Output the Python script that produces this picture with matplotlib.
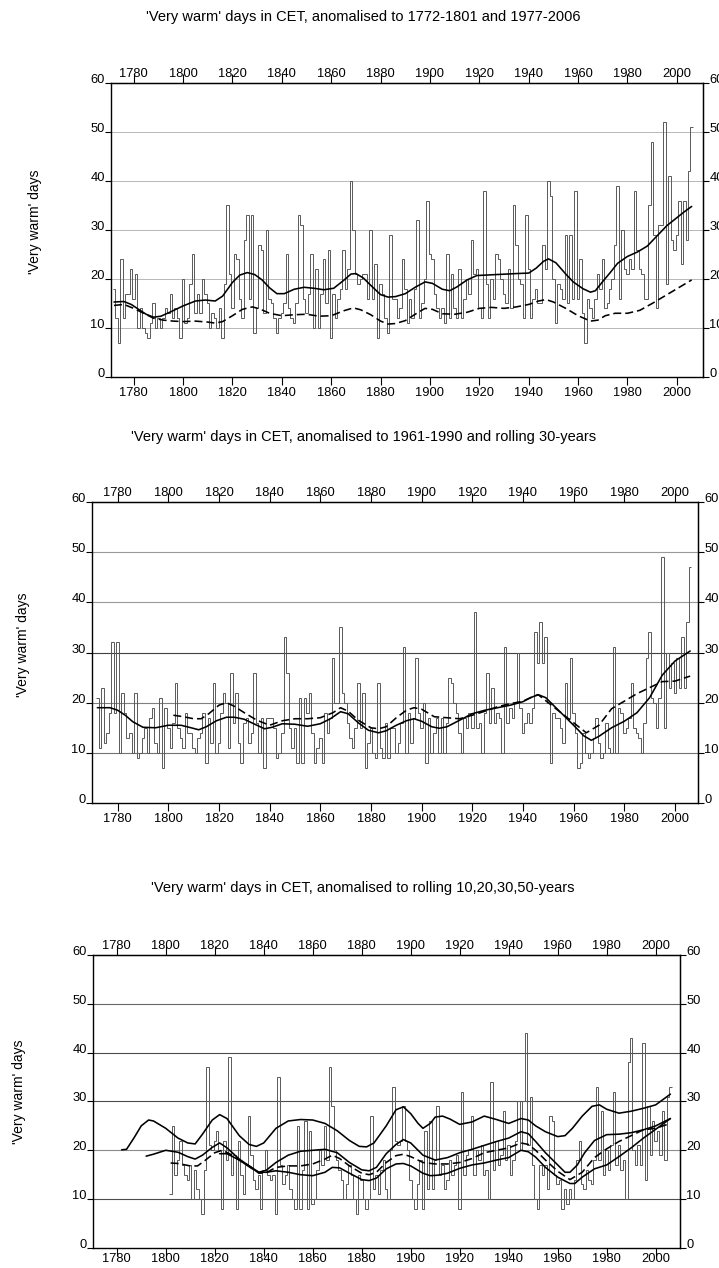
#!/usr/bin/env python3
"""'Very warm' days in CET - three anomaly panels (step series + smoothed curves)."""
import numpy as np
import matplotlib
matplotlib.use("Agg")
import matplotlib.pyplot as plt

plt.rcParams['font.family'] = ['Liberation Sans', 'DejaVu Sans']

# ---- panel 1: anomalised to 1772-1801 and 1977-2006 ----
p1_start = 1772
p1_days = [
    18, 12, 7, 24, 12, 17, 17, 22, 16, 21,
    10, 14, 10, 9, 8, 11, 15, 10, 12, 10,
    12, 14, 13, 17, 12, 14, 12, 8, 20, 11,
    12, 19, 25, 13, 17, 13, 20, 17, 15, 10,
    13, 12, 10, 14, 8, 19, 35, 21, 14, 25,
    24, 16, 12, 28, 33, 16, 33, 9, 14, 27,
    26, 13, 30, 16, 15, 12, 9, 12, 13, 15,
    25, 14, 12, 11, 15, 33, 31, 16, 13, 17,
    25, 10, 22, 10, 17, 24, 15, 26, 8, 17,
    12, 16, 18, 26, 18, 22, 40, 30, 21, 19,
    20, 21, 21, 16, 30, 16, 23, 8, 19, 17,
    12, 9, 29, 16, 16, 12, 14, 24, 18, 11,
    16, 12, 18, 32, 12, 15, 20, 36, 25, 24,
    17, 14, 12, 14, 11, 25, 12, 21, 14, 12,
    22, 12, 16, 20, 17, 28, 21, 22, 14, 12,
    38, 19, 12, 20, 16, 25, 24, 20, 17, 15,
    22, 14, 35, 27, 20, 19, 12, 33, 22, 12,
    16, 18, 15, 15, 27, 22, 40, 37, 20, 11,
    19, 18, 16, 29, 15, 29, 16, 38, 16, 24,
    13, 7, 16, 14, 12, 16, 21, 18, 24, 14,
    15, 18, 20, 27, 39, 16, 30, 22, 21, 24,
    22, 38, 26, 22, 21, 16, 16, 35, 48, 29,
    14, 31, 31, 52, 19, 41, 28, 26, 29, 36,
    23, 36, 28, 42, 51,
]
p1_solid_yr = [1772, 1776, 1779, 1782, 1785, 1788, 1791, 1795, 1800, 1805, 1809, 1813,
               1816, 1820, 1823, 1826, 1829, 1832, 1835, 1838, 1841, 1845, 1849, 1853,
               1857, 1861, 1865, 1868, 1870, 1873, 1876, 1880, 1883, 1886, 1890, 1894,
               1898, 1901, 1905, 1908, 1911, 1915, 1919, 1923, 1927, 1931, 1935, 1940,
               1943, 1946, 1948, 1951, 1955, 1958, 1962, 1965, 1967, 1970, 1973, 1976,
               1980, 1984, 1988, 1992, 1996, 2000, 2003, 2006]
p1_solid = [15.3, 15.4, 14.8, 13.8, 12.8, 12.2, 12.4, 13.3, 14.5, 15.5, 15.7, 15.5,
            16.5, 19.3, 20.8, 21.3, 20.9, 19.8, 18.2, 17.0, 17.0, 17.9, 18.3, 18.1,
            17.8, 18.1, 19.7, 21.0, 21.1, 20.2, 18.7, 16.8, 16.3, 16.4, 17.0, 18.3,
            19.4, 19.1, 17.9, 17.6, 18.4, 19.8, 20.7, 20.8, 20.9, 21.0, 21.1, 21.2,
            22.2, 23.6, 24.1, 23.3, 21.0, 19.4, 18.0, 17.3, 17.6, 19.5, 21.3, 23.2,
            24.6, 25.5, 26.7, 28.8, 30.9, 32.5, 33.7, 34.8]
p1_dash_yr = [1772, 1776, 1780, 1784, 1788, 1792, 1796, 1800, 1805, 1810, 1813, 1816,
              1820, 1824, 1828, 1831, 1835, 1840, 1845, 1850, 1855, 1860, 1865, 1869,
              1872, 1876, 1880, 1883, 1886, 1890, 1894, 1898, 1901, 1905, 1910, 1915,
              1920, 1925, 1930, 1935, 1940, 1944, 1947, 1950, 1955, 1960, 1965, 1968,
              1971, 1975, 1980, 1985, 1990, 1995, 2000, 2006]
p1_dash = [14.6, 14.8, 14.0, 13.0, 12.0, 11.6, 11.4, 11.3, 11.4, 11.2, 11.0, 11.3,
           12.5, 13.8, 14.3, 13.9, 13.0, 12.5, 12.7, 12.8, 12.4, 12.5, 13.5, 14.1,
           13.7, 12.7, 11.4, 10.8, 10.9, 11.5, 12.8, 14.0, 13.8, 12.9, 12.8, 13.2,
           14.0, 14.2, 14.0, 14.3, 14.8, 15.5, 15.8, 15.3, 14.0, 12.5, 11.4, 11.6,
           12.5, 13.0, 13.0, 13.6, 15.0, 16.5, 18.0, 19.8]

# ---- panel 2: anomalised to 1961-1990 and rolling 30-years ----
p2_start = 1772
p2_days = [
    21, 11, 23, 12, 14, 18, 32, 18, 32, 10,
    22, 18, 13, 14, 10, 22, 9, 10, 13, 15,
    10, 17, 19, 12, 10, 21, 7, 19, 15, 11,
    16, 24, 15, 13, 11, 18, 14, 14, 11, 10,
    13, 14, 18, 8, 17, 12, 24, 10, 12, 18,
    22, 20, 11, 26, 16, 22, 12, 8, 16, 17,
    12, 14, 26, 16, 10, 17, 7, 17, 17, 17,
    15, 9, 10, 14, 33, 26, 15, 11, 15, 8,
    21, 8, 21, 18, 22, 14, 8, 11, 13, 8,
    18, 14, 17, 29, 20, 20, 35, 22, 20, 16,
    13, 11, 15, 24, 15, 22, 7, 12, 15, 10,
    9, 24, 11, 9, 16, 9, 15, 15, 10, 12,
    16, 31, 10, 18, 12, 17, 29, 18, 15, 20,
    8, 17, 10, 14, 17, 10, 17, 10, 16, 25,
    24, 20, 18, 14, 10, 17, 15, 18, 15, 38,
    15, 16, 10, 18, 26, 16, 23, 16, 18, 17,
    10, 31, 16, 19, 17, 20, 30, 19, 14, 16,
    18, 16, 19, 34, 28, 36, 28, 33, 20, 8,
    18, 17, 17, 15, 12, 24, 17, 29, 18, 14,
    7, 8, 14, 10, 9, 10, 13, 17, 12, 9,
    10, 16, 11, 10, 31, 10, 19, 18, 14, 15,
    17, 24, 15, 14, 13, 10, 16, 29, 34, 21,
    20, 15, 21, 49, 15, 30, 23, 28, 22, 29,
    23, 33, 23, 36, 47,
]
p2_solid_yr = [1772, 1777, 1780, 1783, 1786, 1790, 1795, 1800, 1805, 1809, 1812, 1815,
               1819, 1823, 1826, 1830, 1835, 1838, 1841, 1845, 1850, 1855, 1860, 1864,
               1868, 1871, 1875, 1879, 1883, 1886, 1890, 1894, 1897, 1900, 1904, 1907,
               1910, 1915, 1920, 1925, 1930, 1935, 1940, 1943, 1946, 1949, 1952, 1956,
               1960, 1964, 1967, 1970, 1975, 1980, 1985, 1990, 1995, 2000, 2006]
p2_solid = [19.0, 19.0, 18.5, 17.5, 16.2, 15.1, 15.0, 15.5, 15.5, 15.0, 14.6, 15.2,
            16.4, 17.1, 17.1, 16.7, 15.5, 14.8, 15.1, 15.8, 15.7, 15.3, 15.8, 16.8,
            18.2, 17.8, 16.0, 14.5, 14.0, 14.4, 15.5, 16.4, 16.8, 16.3, 15.2, 14.9,
            15.2, 16.5, 17.8, 18.5, 19.0, 19.5, 20.2, 21.0, 21.6, 21.0, 19.5, 17.5,
            15.5, 13.4, 12.5, 13.3, 15.0, 16.3, 18.0, 21.0, 25.5, 28.3, 30.3]
p2_dash_yr = [1802, 1806, 1810, 1813, 1816, 1820, 1823, 1826, 1830, 1835, 1840, 1845,
              1850, 1855, 1860, 1865, 1868, 1871, 1875, 1880, 1883, 1886, 1890, 1894,
              1897, 1900, 1905, 1910, 1915, 1920, 1925, 1930, 1935, 1940, 1943, 1946,
              1950, 1955, 1960, 1965, 1970, 1975, 1980, 1985, 1990, 1995, 2000, 2006]
p2_dash = [17.5, 17.2, 16.8, 16.8, 17.8, 19.5, 20.0, 19.3, 18.0, 16.5, 15.5, 16.4,
           16.8, 16.8, 17.0, 18.0, 19.0, 18.3, 16.5, 15.0, 14.8, 15.2, 17.0, 18.5,
           19.0, 18.7, 17.2, 17.0, 16.8, 17.5, 18.3, 19.2, 19.8, 20.3, 21.0, 21.6,
           20.0, 18.0, 16.0, 14.0, 15.5, 18.8, 20.3, 21.8, 23.0, 24.2, 24.3, 25.3]

# ---- panel 3: anomalised to rolling 10,20,30,50-years ----
p3_start = 1802
p3_days = [
    11, 25, 15, 18, 22, 17, 15, 14, 17, 10,
    16, 12, 10, 7, 16, 37, 21, 20, 22, 24,
    20, 8, 22, 18, 39, 15, 19, 8, 22, 15,
    11, 17, 27, 19, 14, 12, 15, 8, 16, 20,
    15, 14, 15, 7, 35, 17, 13, 15, 17, 12,
    10, 8, 25, 8, 16, 26, 8, 24, 9, 10,
    16, 20, 17, 25, 18, 37, 29, 20, 18, 16,
    14, 10, 13, 17, 15, 10, 7, 15, 14, 10,
    8, 10, 27, 12, 15, 11, 16, 18, 12, 10,
    20, 33, 22, 21, 22, 29, 22, 20, 14, 10,
    8, 13, 18, 8, 24, 12, 26, 12, 18, 29,
    15, 17, 12, 14, 18, 15, 17, 19, 8, 32,
    15, 19, 20, 27, 15, 20, 18, 21, 15, 16,
    10, 34, 16, 22, 17, 19, 28, 18, 21, 15,
    18, 22, 30, 20, 30, 44, 21, 31, 17, 10,
    8, 17, 15, 17, 12, 27, 26, 15, 13, 14,
    8, 12, 9, 12, 10, 14, 18, 22, 13, 12,
    16, 14, 13, 18, 33, 18, 28, 15, 20, 16,
    21, 32, 17, 21, 16, 18, 10, 38, 43, 20,
    17, 21, 17, 42, 14, 29, 19, 26, 22, 24,
    19, 28, 18, 31, 33,
]
p3_r10_yr = [1782, 1784, 1787, 1790, 1793, 1795, 1800, 1805, 1809, 1812, 1815, 1819,
             1822, 1825, 1830, 1834, 1837, 1840, 1845, 1850, 1855, 1860, 1865, 1870,
             1875, 1879, 1882, 1885, 1890, 1894, 1897, 1900, 1903, 1905, 1908, 1910,
             1913, 1916, 1920, 1925, 1930, 1935, 1940, 1945, 1948, 1951, 1955, 1960,
             1963, 1966, 1970, 1974, 1977, 1980, 1985, 1990, 1995, 2000, 2006]
p3_r10 = [20.1, 20.2, 22.5, 25.0, 26.2, 26.0, 24.5, 22.5, 21.5, 21.3, 23.3, 26.2,
          27.3, 26.5, 23.0, 21.2, 20.8, 21.5, 24.5, 26.0, 26.3, 26.2, 25.5, 24.0,
          22.0, 20.8, 20.7, 21.5, 25.0, 28.3, 28.9, 27.5, 25.5, 24.5, 25.5, 26.8,
          27.0, 26.4, 25.3, 25.8, 27.0, 26.3, 25.5, 26.5, 26.2, 25.0, 23.8, 22.8,
          23.0, 24.5, 27.0, 29.0, 29.3, 28.4, 27.6, 28.0, 28.6, 29.3, 31.5]
p3_r20_yr = [1792, 1795, 1800, 1805, 1809, 1812, 1815, 1819, 1822, 1825, 1830, 1835,
             1838, 1841, 1845, 1850, 1855, 1860, 1865, 1870, 1875, 1880, 1883, 1886,
             1890, 1894, 1897, 1900, 1905, 1910, 1915, 1920, 1925, 1930, 1935, 1940,
             1945, 1948, 1951, 1955, 1960, 1963, 1965, 1968, 1971, 1975, 1980, 1985,
             1990, 1995, 2000, 2006]
p3_r20 = [18.8, 19.2, 20.0, 19.6, 18.7, 18.2, 19.0, 20.6, 21.5, 20.5, 18.2, 16.5,
          15.5, 15.9, 17.5, 19.0, 19.8, 20.0, 20.2, 19.5, 17.5, 16.0, 15.8, 16.5,
          19.3, 21.2, 22.2, 21.5, 19.0, 18.0, 18.5, 19.5, 20.2, 21.0, 21.8, 22.5,
          23.8, 23.4, 21.8, 19.5, 17.0, 15.5, 15.5, 17.0, 19.5, 22.0, 23.2, 23.3,
          23.6, 24.2, 25.0, 26.5]
p3_r30_yr = [1802, 1805, 1810, 1813, 1816, 1820, 1823, 1826, 1830, 1835, 1838, 1841,
             1845, 1850, 1855, 1860, 1865, 1868, 1871, 1875, 1880, 1883, 1886, 1890,
             1894, 1897, 1900, 1905, 1910, 1915, 1920, 1925, 1930, 1935, 1940, 1945,
             1948, 1951, 1955, 1960, 1965, 1970, 1975, 1980, 1985, 1990, 1995, 2000,
             2006]
p3_r30 = [17.4, 17.3, 16.8, 16.8, 17.9, 19.5, 20.0, 19.3, 18.0, 16.5, 15.3, 15.4,
          16.5, 16.8, 16.8, 17.2, 18.2, 19.0, 18.3, 16.8, 15.3, 15.0, 15.5, 17.5,
          18.9, 19.2, 18.7, 17.5, 17.2, 17.2, 17.5, 18.3, 19.5, 20.0, 20.5, 21.5,
          21.2, 20.0, 18.0, 15.7, 14.0, 15.5, 18.5, 20.3, 21.8, 23.0, 24.2, 24.5,
          25.5]
p3_r50_yr = [1822, 1825, 1830, 1835, 1838, 1841, 1845, 1850, 1855, 1860, 1865, 1868,
             1871, 1875, 1880, 1883, 1886, 1890, 1894, 1897, 1900, 1905, 1908, 1911,
             1915, 1920, 1925, 1930, 1935, 1940, 1945, 1948, 1951, 1955, 1960, 1965,
             1967, 1970, 1975, 1980, 1985, 1990, 1995, 2000, 2006]
p3_r50 = [19.3, 19.3, 18.0, 16.3, 15.5, 15.5, 15.8, 15.5, 15.0, 14.8, 15.5, 16.5,
          16.4, 15.3, 14.0, 13.8, 14.3, 16.2, 17.2, 17.3, 16.8, 15.3, 14.8, 14.9,
          15.3, 16.3, 17.0, 17.4, 18.0, 18.5, 20.0, 19.7, 18.6, 16.5, 14.5, 13.2,
          13.2, 14.5, 16.2, 17.0, 18.7, 20.5, 22.5, 24.3, 26.5]

YEAR_TICKS = list(range(1780, 2001, 20))
DAY_TICKS = list(range(0, 61, 10))
STEP_COLOR = '0.35'
TICK_SIZE = 9.3
LINE_KW = dict(color='black', lw=1.15, solid_capstyle='round', zorder=4)
DASH_KW = dict(color='black', lw=1.15, dashes=(5, 2.5), zorder=4)


def year_edges(start, n):
    return np.arange(start, start + n + 1) - 0.5


def style_panel(ax, xlim, grid_colors, grid_kw, bottom_pad=-2.2):
    ax.set_xlim(*xlim)
    ax.set_ylim(0, 60)
    ax.set_xticks(YEAR_TICKS)
    ax.set_yticks(DAY_TICKS)
    for y, c in zip(DAY_TICKS[1:-1], grid_colors):
        ax.axhline(y, color=c, zorder=1, **grid_kw)
    for sp in ax.spines.values():
        sp.set_linewidth(1.0)
    ax.tick_params(axis='x', direction='out', length=5.5, width=0.8,
                   pad=bottom_pad, labelsize=TICK_SIZE)
    ax.tick_params(axis='y', direction='out', length=4, width=0.8,
                   pad=0.5, labelsize=TICK_SIZE)
    for lab in ax.get_yticklabels():
        lab.set_verticalalignment('baseline')

    top = ax.secondary_xaxis('top')
    top.set_xticks(YEAR_TICKS)
    top.tick_params(direction='out', length=6.5, width=0.8, pad=-4.5,
                    labelsize=TICK_SIZE)

    right = ax.secondary_yaxis('right')
    right.set_yticks(DAY_TICKS)
    right.tick_params(direction='out', length=4, width=0.8, pad=0.5,
                      labelsize=TICK_SIZE)
    for lab in right.get_yticklabels():
        lab.set_verticalalignment('baseline')


fig = plt.figure(figsize=(7.19, 12.68), dpi=100)

# panel 1
ax1 = fig.add_axes([0.1544, 0.7027, 0.8234, 0.2319])
ax1.stairs(p1_days, year_edges(p1_start, len(p1_days)), baseline=None,
           color=STEP_COLOR, lw=0.7, zorder=2)
ax1.plot(p1_solid_yr, p1_solid, **LINE_KW)
ax1.plot(p1_dash_yr, p1_dash, **DASH_KW)
style_panel(ax1, (1770.8, 2010.6), ['0.35'] * 5,
            dict(lw=0.6, linestyle=(0, (1.2, 1.2))), bottom_pad=1.5)

# panel 2
ax2 = fig.add_axes([0.1280, 0.3667, 0.8428, 0.2374])
ax2.stairs(p2_days, year_edges(p2_start, len(p2_days)), baseline=None,
           color=STEP_COLOR, lw=0.7, zorder=2)
ax2.plot(p2_solid_yr, p2_solid, **LINE_KW)
ax2.plot(p2_dash_yr, p2_dash, **DASH_KW)
style_panel(ax2, (1769.9, 2009.1), ['0.45', '0.5', '0.25', '0.6', '0.6'],
            dict(lw=0.8), bottom_pad=1.5)

# panel 3
ax3 = fig.add_axes([0.1293, 0.0158, 0.8164, 0.2311])
ax3.stairs(p3_days, year_edges(p3_start, len(p3_days)), baseline=None,
           color=STEP_COLOR, lw=0.7, zorder=2)
ax3.plot(p3_r10_yr, p3_r10, **LINE_KW)
ax3.plot(p3_r20_yr, p3_r20, **LINE_KW)
ax3.plot(p3_r30_yr, p3_r30, **DASH_KW)
ax3.plot(p3_r50_yr, p3_r50, **LINE_KW)
style_panel(ax3, (1770.3, 2009.9), ['0.3', '0.55', '0.3', '0.3', '0.4'],
            dict(lw=0.8))

titles = [
    (0.9866, "'Very warm' days in CET, anomalised to 1772-1801 and 1977-2006"),
    (0.6554, "'Very warm' days in CET, anomalised to 1961-1990 and rolling 30-years"),
    (0.2997, "'Very warm' days in CET, anomalised to rolling 10,20,30,50-years"),
]
for y, t in titles:
    fig.text(0.505, y, t, ha='center', va='center', fontsize=10.5)

for x, y in [(35, 222), (23, 645), (19, 1092)]:
    fig.text(x / 719, 1 - y / 1268, "'Very warm' days", rotation=90,
             ha='center', va='center', fontsize=10)

fig.savefig('out.png', dpi=100)
